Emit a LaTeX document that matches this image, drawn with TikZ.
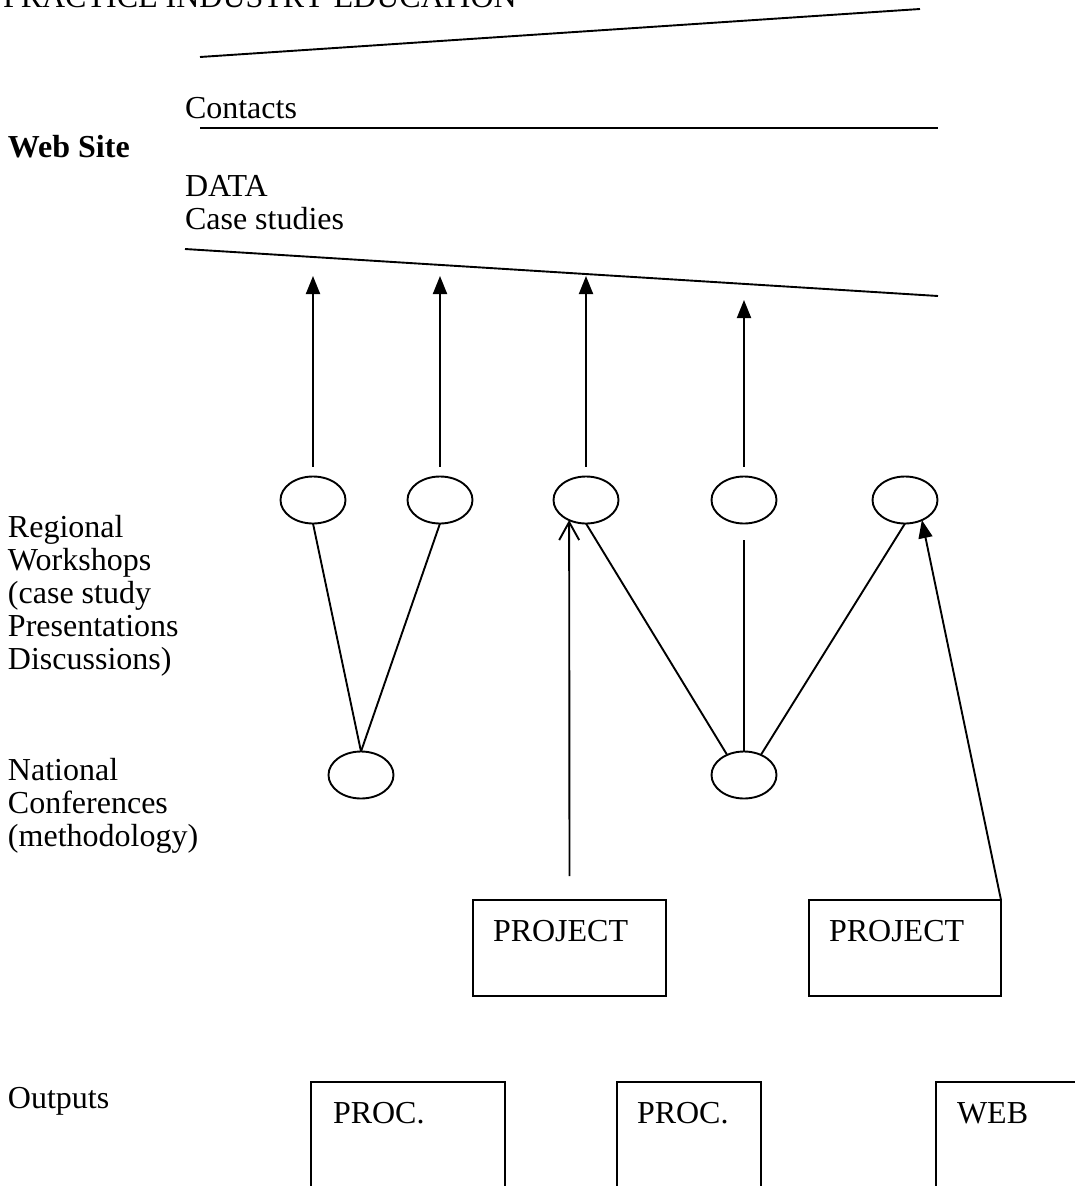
\documentclass[tikz,border=0pt]{standalone}
\usepackage{fontspec}
\setmainfont{Liberation Serif}
\usetikzlibrary{arrows.meta,shapes.geometric,calc}
\begin{document}
\begin{tikzpicture}[x=1pt,y=-1pt,
  every node/.style={font=\fontsize{32}{33}\selectfont},
  lbl/.style={anchor=base west,inner sep=0pt,outer sep=0pt},
  ell/.style={draw,ellipse,line width=1.9pt,minimum width=65pt,minimum height=47pt,inner sep=0pt,outer sep=0pt},
  boxnode/.style={draw,rectangle,line width=1.9pt,inner sep=0pt,outer sep=0pt},
  ln/.style={line width=1.9pt},
  up/.style={ln,-{Triangle[length=18pt,width=14pt]}},
  openup/.style={ln,-{Straight Barb[length=18pt,width=20pt]}},
]
\useasboundingbox (0,0) rectangle (1075,1186);
\clip (0,0) rectangle (1075,1186);
\fill[white] (0,0) rectangle (1075,1186);

% header texts
\node[lbl] (pie) at (3,7) {PRACTICE INDUSTRY EDUCATION};
\node[lbl] (contacts) at (185,118) {Contacts};
\node[lbl,font=\fontsize{32}{33}\selectfont\bfseries] (web) at (8,157) {Web Site};
\node[lbl] (data) at (185,196) {DATA};
\node[lbl] (cases) at (185,229) {Case studies};

% web site lines
\draw[ln] (200,57) -- (920,9);
\draw[ln] (200,128) -- (938,128);
\draw[ln] (185,249) -- (938,296);

% left labels
\node[lbl] (lr1) at (8,537) {Regional};
\node[lbl] (lr2) at (8,570) {Workshops};
\node[lbl] (lr3) at (8,603) {(case study};
\node[lbl] (lr4) at (8,636) {Presentations};
\node[lbl] (lr5) at (8,669) {Discussions)};
\node[lbl] (ln1) at (8,780) {National};
\node[lbl] (ln2) at (8,813) {Conferences};
\node[lbl] (ln3) at (8,846) {(methodology)};
\node[lbl] (lout) at (8,1108) {Outputs};

% regional workshops
\node[ell] (r1) at (313,500) {};
\node[ell] (r2) at (440,500) {};
\node[ell] (r3) at (586,500) {};
\node[ell] (r4) at (744,500) {};
\node[ell] (r5) at (905,500) {};

% national conferences
\node[ell] (n1) at (361,775) {};
\node[ell] (n2) at (744,775) {};

% projects
\node[boxnode,minimum width=193pt,minimum height=96pt] (p1) at (569.5,948) {};
\node[lbl] (p1t) at ($(p1.north west)+(20,41)$) {PROJECT};
\node[boxnode,minimum width=192pt,minimum height=96pt] (p2) at (905,948) {};
\node[lbl] (p2t) at ($(p2.north west)+(20,41)$) {PROJECT};

% outputs
\node[boxnode,minimum width=194pt,minimum height=300pt] (o1) at (408,1232) {};
\node[lbl] (o1t) at ($(o1.north west)+(22,41)$) {PROC.};
\node[boxnode,minimum width=144pt,minimum height=300pt] (o2) at (689,1232) {};
\node[lbl] (o2t) at ($(o2.north west)+(20,41)$) {PROC.};
\node[boxnode,minimum width=300pt,minimum height=300pt] (o3) at (1086,1232) {};
\node[lbl] (o3t) at ($(o3.north west)+(21,41)$) {WEB};

% arrow tips below the web site
\coordinate (a1) at (313,276);
\coordinate (a2) at (440,276);
\coordinate (a3) at (586,276);
\coordinate (a4) at (744,300);
\draw[up] ([yshift=10pt]r1.north) -- (a1);
\draw[up] ([yshift=10pt]r2.north) -- (a2);
\draw[up] ([yshift=10pt]r3.north) -- (a3);
\draw[up] ([yshift=10pt]r4.north) -- (a4);

% links regional -- national
\draw[ln] (r1.south) -- (n1.north);
\draw[ln] (r2.south) -- (n1.north);
\draw[ln] (r3.south) -- (n2.130);
\coordinate (m4) at ([yshift=-16pt]r4.south);
\draw[ln] (n2.north) -- (m4);
\draw[ln] (n2.50) -- (r5.south);

% project arrows
\draw[openup] ([yshift=24pt]p1.north) -- (r3.-130);
\draw[up] (p2.north east) -- (r5.-50);
\end{tikzpicture}
\end{document}
